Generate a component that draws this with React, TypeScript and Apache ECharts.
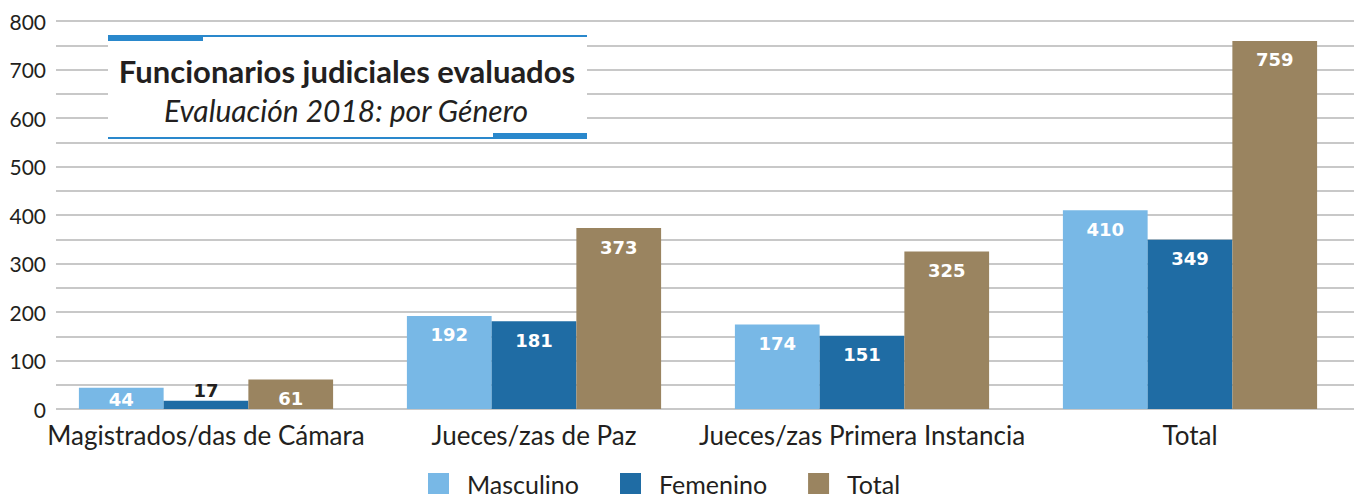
import React, { useEffect, useRef } from "react";
import * as echarts from "echarts";

const categories = ["Magistrados/das de Cámara", "Jueces/zas de Paz", "Jueces/zas Primera Instancia", "Total"];
const masculino = [44, 192, 174, 410];
const femenino = [17, 181, 151, 349];
const total = [61, 373, 325, 759];
const seriesNames = ["Masculino", "Femenino", "Total"];
const colors = ["#78b8e6", "#1f6ca4", "#9a8460"];
const titleText = "Funcionarios judiciales evaluados";
const subtitleText = "Evaluación 2018: por Género";

export default function App() {
  const ref = useRef<HTMLDivElement>(null);
  useEffect(() => {
    document.body.style.margin = "0";
    const chart = echarts.init(ref.current!, undefined, { renderer: "svg" });
    const labelBase = {
      show: true,
      position: "insideTop",
      distance: 10,
      color: "#ffffff",
      fontFamily: "DejaVu Sans",
      fontWeight: "bold",
      fontSize: 18,
    };
    const mkData = (arr: number[]) =>
      arr.map((v) =>
        v < 30
          ? { value: v, label: { position: "top", distance: 1, color: "#231f20" } }
          : v < 50
          ? { value: v, label: { distance: 3 } }
          : v
      );
    const mkSeries = (name: string, arr: number[], color: string) => ({
      name,
      type: "bar",
      xAxisIndex: 1,
      yAxisIndex: 1,
      data: mkData(arr),
      itemStyle: { color },
      barGap: "0%",
      barCategoryGap: "22.5%",
      label: labelBase,
    });
    const blue = "#2a88cc";
    chart.setOption({
      animation: false,
      backgroundColor: "#ffffff",
      color: colors,
      grid: [
        { left: 56, right: 0, top: 21, bottom: 89 },
        { left: 42, right: 0, top: 21, bottom: 89 },
      ],
      xAxis: [
        { gridIndex: 0, type: "category", data: categories, show: false },
        {
          gridIndex: 1,
          type: "category",
          data: categories,
          axisLine: { show: false },
          axisTick: { show: false },
          axisLabel: {
            interval: 0,
            color: "#231f20",
            fontFamily: "Lato",
            fontSize: 26,
            margin: 13,
          },
        },
      ],
      yAxis: [
        {
          gridIndex: 0,
          type: "value",
          min: 0,
          max: 800,
          interval: 50,
          axisLine: { show: false },
          axisTick: { show: false },
          splitLine: { lineStyle: { color: "#c8c8c8", width: 2 } },
          axisLabel: {
            color: "#231f20",
            fontFamily: "Lato",
            fontSize: 21,
            margin: 10,
            formatter: (v: number) => (v % 100 === 0 ? String(v) : ""),
          },
        },
        { gridIndex: 1, type: "value", min: 0, max: 800, interval: 50, show: false, splitLine: { show: false } },
      ],
      legend: {
        data: seriesNames,
        left: 428,
        top: 471,
        padding: 0,
        itemWidth: 21,
        itemHeight: 21,
        itemGap: 41,
        icon: "rect",
        textStyle: {
          color: "#231f20",
          fontFamily: "Lato",
          fontSize: 25,
          lineHeight: 24,
          padding: [0, 0, 0, 13],
        },
      },
      series: [
        mkSeries(seriesNames[0], masculino, colors[0]),
        mkSeries(seriesNames[1], femenino, colors[1]),
        mkSeries(seriesNames[2], total, colors[2]),
      ],
      graphic: [
        { type: "rect", z: 100, shape: { x: 108, y: 35, width: 479, height: 104 }, style: { fill: "#ffffff" } },
        { type: "rect", z: 101, shape: { x: 108, y: 35, width: 479, height: 2 }, style: { fill: blue } },
        { type: "rect", z: 101, shape: { x: 108, y: 35, width: 95, height: 6 }, style: { fill: blue } },
        { type: "rect", z: 101, shape: { x: 108, y: 137, width: 479, height: 2 }, style: { fill: blue } },
        { type: "rect", z: 101, shape: { x: 493, y: 133, width: 94, height: 6 }, style: { fill: blue } },
        {
          type: "text",
          z: 102,
          x: 347,
          y: 71,
          style: {
            text: titleText,
            fill: "#231f20",
            font: "bold 31px Lato",
            align: "center",
            verticalAlign: "middle",
          },
        },
        {
          type: "text",
          z: 102,
          x: 346,
          y: 110,
          style: {
            text: subtitleText,
            fill: "#231f20",
            font: "italic 30px Lato",
            align: "center",
            verticalAlign: "middle",
          },
        },
      ],
    });
    return () => chart.dispose();
  }, []);
  return <div ref={ref} style={{ width: 1354, height: 498 }} />;
}
